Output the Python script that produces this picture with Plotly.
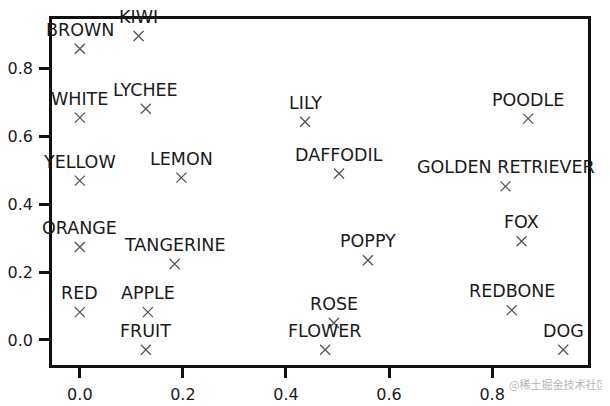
import plotly.graph_objects as go

words = ["BROWN", "KIWI", "WHITE", "LYCHEE", "LILY", "POODLE", "YELLOW", "LEMON",
         "DAFFODIL", "GOLDEN RETRIEVER", "FOX", "ORANGE", "TANGERINE", "POPPY",
         "RED", "APPLE", "REDBONE", "ROSE", "FRUIT", "FLOWER", "DOG"]
x_vals = [0.0, 0.114, 0.0, 0.128, 0.437, 0.870, 0.0, 0.197,
          0.503, 0.826, 0.857, 0.0, 0.184, 0.559,
          0.0, 0.132, 0.838, 0.493, 0.128, 0.476, 0.938]
y_vals = [0.859, 0.897, 0.656, 0.682, 0.644, 0.653, 0.470, 0.479,
          0.491, 0.453, 0.291, 0.274, 0.224, 0.235,
          0.082, 0.082, 0.088, 0.050, -0.029, -0.029, -0.029]
x_ticks = [0.0, 0.2, 0.4, 0.6, 0.8]
y_ticks = [0.0, 0.2, 0.4, 0.6, 0.8]

FONT = "DejaVu Sans"
fig = go.Figure()
fig.add_trace(go.Scatter(
    x=x_vals, y=y_vals, mode="markers",
    marker=dict(symbol="x-thin-open", size=10, color="#555555",
                line=dict(color="#555555", width=1.3)),
    hoverinfo="skip", showlegend=False))

for w, xv, yv in zip(words, x_vals, y_vals):
    fig.add_annotation(x=xv, y=yv, text=w, showarrow=False, yshift=19,
                       font=dict(family=FONT, size=17.5, color="#1a1a1a"))

fig.add_annotation(xref="paper", yref="paper", x=1.04, y=-0.085, xanchor="right",
                   text="@稀土掘金技术社区", showarrow=False,
                   font=dict(family="Noto Sans CJK SC", size=11, color="rgba(160,160,160,0.8)"))

axis_common = dict(showgrid=False, zeroline=False, showline=True, linecolor="#111111",
                   linewidth=2.5, mirror=True, ticks="outside", ticklen=10, tickwidth=2.5,
                   tickcolor="#111111", automargin=False, ticklabelstandoff=3,
                   tickfont=dict(family=FONT, size=16, color="#1a1a1a"))
fig.update_xaxes(range=[-0.054, 0.986], tickvals=x_ticks,
                 ticktext=[f"{t:.1f}" for t in x_ticks], **axis_common)
fig.update_yaxes(range=[-0.074, 0.947], tickvals=y_ticks,
                 ticktext=[f"{t:.1f}" for t in y_ticks], **axis_common)

fig.update_layout(width=602, height=398, margin=dict(l=44, r=22, t=11, b=41),
                  plot_bgcolor="white", paper_bgcolor="white")
fig.write_html("out.html")
